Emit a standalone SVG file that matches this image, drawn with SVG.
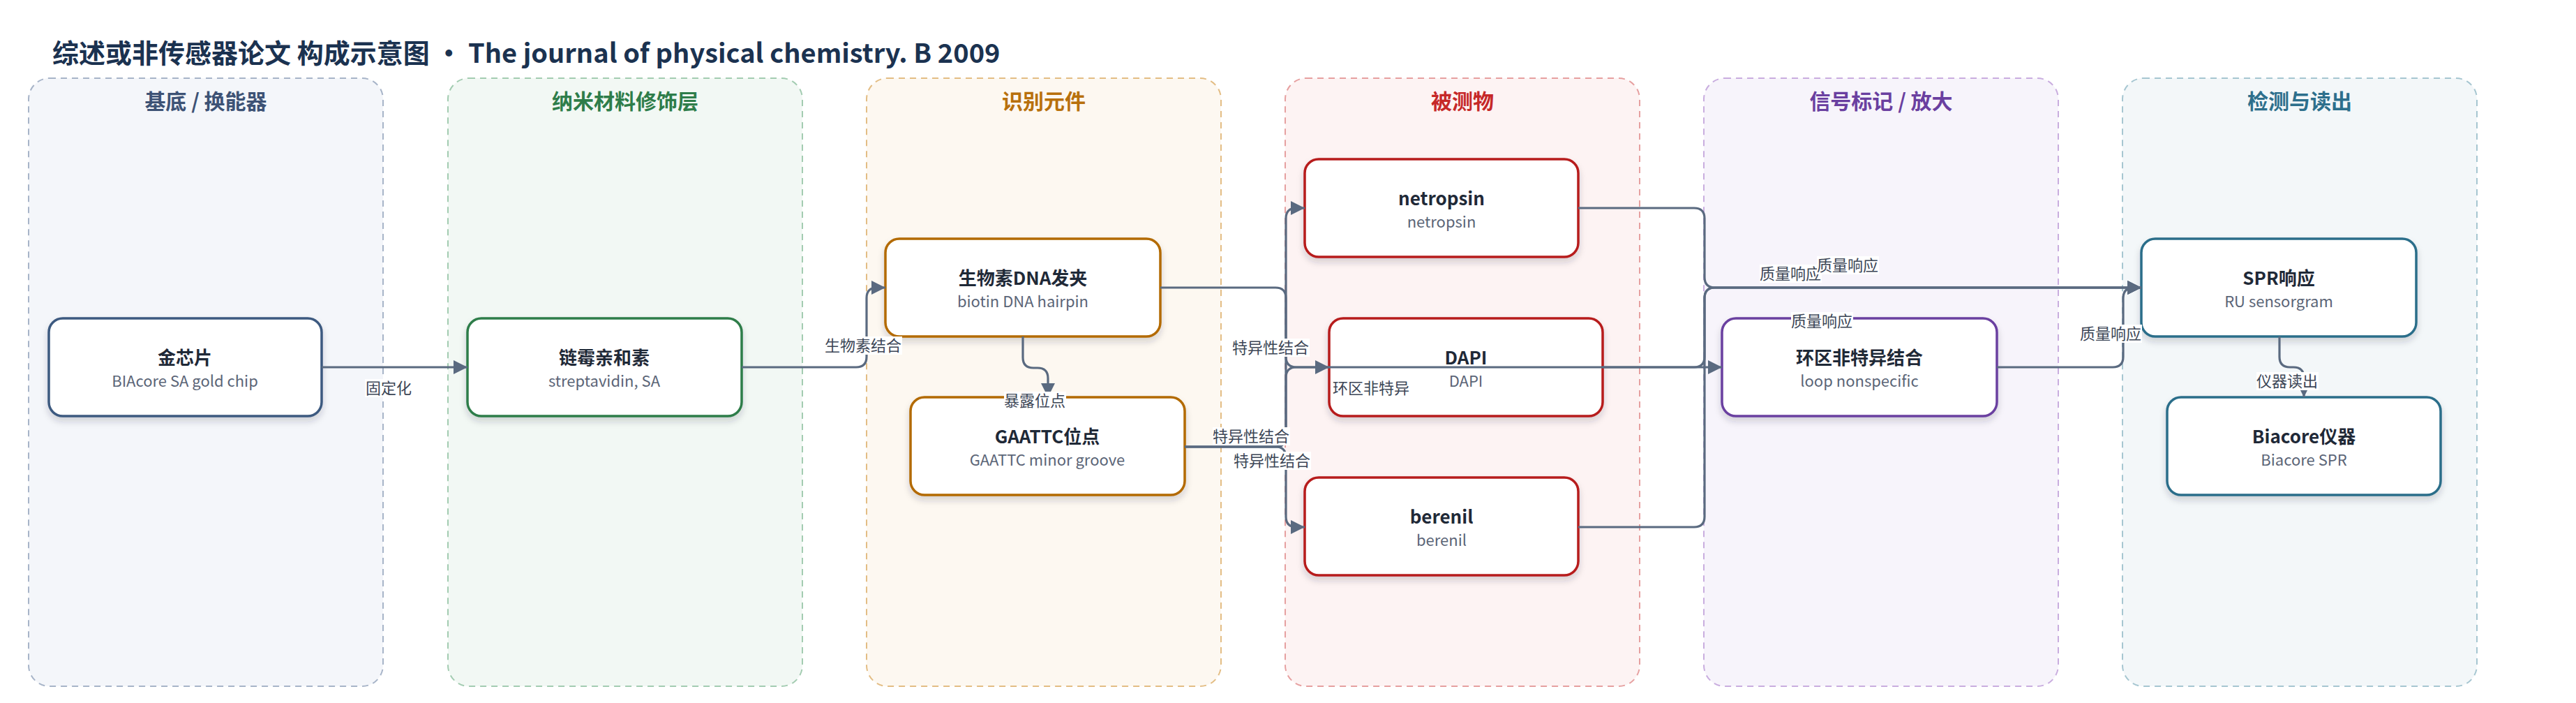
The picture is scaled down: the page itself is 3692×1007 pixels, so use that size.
<svg xmlns="http://www.w3.org/2000/svg" width="3692" height="1007" viewBox="0 0 3692 1007">
<defs>
<style>
text{font-family:"Noto Sans CJK SC","Noto Sans",sans-serif}
.title{font-size:38px;font-weight:700;fill:#1b3250}
.lane{stroke-width:2;stroke-dasharray:9 7}
.lt{font-size:30px;font-weight:700;text-anchor:middle}
.node{fill:#fff;stroke-width:3.5;filter:url(#sh)}
.nt{font-size:26px;font-weight:700;fill:#1f2937;text-anchor:middle}
.ns{font-size:22px;fill:#5b6577;text-anchor:middle}
.e{fill:none;stroke:#5a6a80;stroke-width:3.2}
.ea{marker-end:url(#ar)}
.lb{font-size:22px;fill:#3c4656;text-anchor:middle}
.lbg{fill:#fff}
</style>
<filter id="sh" x="-10%" y="-10%" width="120%" height="140%">
<feDropShadow dx="0" dy="6" stdDeviation="5" flood-color="#1f2937" flood-opacity="0.18"/>
</filter>
<marker id="ar" markerUnits="userSpaceOnUse" markerWidth="20" markerHeight="20" refX="20" refY="10" orient="auto">
<path d="M0,0 L20,10 L0,20 Z" fill="#5a6a80"/>
</marker>
</defs>
<rect width="3692" height="1007" fill="#fff"/>
<text class="title" x="75" y="90">综述或非传感器论文 构成示意图 • The journal of physical chemistry. B 2009</text>

<g id="lanes">
<g id="lane1"><rect class="lane" x="41" y="112" width="508" height="871" rx="30" fill="#f4f6fa" stroke="#a7b4c8"/><text class="lt" x="295" y="156" fill="#3d5275">基底 / 换能器</text></g>
<g id="lane2"><rect class="lane" x="642" y="112" width="508" height="871" rx="30" fill="#f2f8f4" stroke="#a3ccb1"/><text class="lt" x="896" y="156" fill="#2e7d4a">纳米材料修饰层</text></g>
<g id="lane3"><rect class="lane" x="1242" y="112" width="508" height="871" rx="30" fill="#fdf8f1" stroke="#e3bd84"/><text class="lt" x="1496" y="156" fill="#b8700c">识别元件</text></g>
<g id="lane4"><rect class="lane" x="1842" y="112" width="508" height="871" rx="30" fill="#fdf3f3" stroke="#e6a0a0"/><text class="lt" x="2096" y="156" fill="#c62828">被测物</text></g>
<g id="lane5"><rect class="lane" x="2442" y="112" width="508" height="871" rx="30" fill="#f7f4fb" stroke="#c9addf"/><text class="lt" x="2696" y="156" fill="#6a3fa0">信号标记 / 放大</text></g>
<g id="lane6"><rect class="lane" x="3042" y="112" width="508" height="871" rx="30" fill="#f3f7f9" stroke="#a6c6d1"/><text class="lt" x="3296" y="156" fill="#2d6f8c">检测与读出</text></g>
</g>

<g id="nodes">
<g id="n-chip"><rect class="node" x="70" y="456" width="391" height="140" rx="20" stroke="#3d5a80"/><text class="nt" x="265" y="522">金芯片</text><text class="ns" x="265" y="554">BIAcore SA gold chip</text></g>
<g id="n-sa"><rect class="node" x="670" y="456" width="393" height="140" rx="20" stroke="#2e7d4a"/><text class="nt" x="866" y="522">链霉亲和素</text><text class="ns" x="866" y="554">streptavidin, SA</text></g>
<g id="n-hairpin"><rect class="node" x="1269" y="342" width="394" height="140" rx="20" stroke="#b36b00"/><text class="nt" x="1466" y="408">生物素DNA发夹</text><text class="ns" x="1466" y="440">biotin DNA hairpin</text></g>
<g id="n-gaattc"><rect class="node" x="1305" y="569" width="393" height="140" rx="20" stroke="#b36b00"/><text class="nt" x="1501" y="635">GAATTC位点</text><text class="ns" x="1501" y="667">GAATTC minor groove</text></g>
<g id="n-netropsin"><rect class="node" x="1870" y="228" width="392" height="140" rx="20" stroke="#b71c1c"/><text class="nt" x="2066" y="294">netropsin</text><text class="ns" x="2066" y="326">netropsin</text></g>
<g id="n-dapi"><rect class="node" x="1905" y="456" width="392" height="140" rx="20" stroke="#b71c1c"/><text class="nt" x="2101" y="522">DAPI</text><text class="ns" x="2101" y="554">DAPI</text></g>
<g id="n-berenil"><rect class="node" x="1870" y="684" width="392" height="140" rx="20" stroke="#b71c1c"/><text class="nt" x="2066" y="750">berenil</text><text class="ns" x="2066" y="782">berenil</text></g>
<g id="n-loop"><rect class="node" x="2468" y="456" width="394" height="140" rx="20" stroke="#6a3fa0"/><text class="nt" x="2665" y="522">环区非特异结合</text><text class="ns" x="2665" y="554">loop nonspecific</text></g>
<g id="n-spr"><rect class="node" x="3069" y="342" width="394" height="140" rx="20" stroke="#2c6e8a"/><text class="nt" x="3266" y="408">SPR响应</text><text class="ns" x="3266" y="440">RU sensorgram</text></g>
<g id="n-biacore"><rect class="node" x="3106" y="569" width="392" height="140" rx="20" stroke="#2c6e8a"/><text class="nt" x="3302" y="635">Biacore仪器</text><text class="ns" x="3302" y="667">Biacore SPR</text></g>
</g>

<g id="connectors">
<path class="e ea" d="M461 526 H670"/>
<path class="e ea" d="M1063 526 H1227 Q1242 526 1242 511 V427 Q1242 412 1257 412 H1269"/>
<path class="e ea" d="M1466 482 V512 Q1466 527 1481 527 H1487 Q1502 527 1502 542 V569"/>
<path class="e ea" d="M1663 412 H1828 Q1843 412 1843 427 V511 Q1843 526 1858 526 H2468"/>
<path class="e ea" d="M1698 640 H1828 Q1843 640 1843 625 V313 Q1843 298 1858 298 H1870"/>
<path class="e ea" d="M1698 640 H1828 Q1843 640 1843 625 V541 Q1843 526 1858 526 H1905"/>
<path class="e ea" d="M1698 640 H1828 Q1843 640 1843 655 V740 Q1843 755 1858 755 H1870"/>
<path class="e ea" d="M2262 298 H2428 Q2443 298 2443 313 V397 Q2443 412 2458 412 H3069"/>
<path class="e ea" d="M2297 526 H2428 Q2443 526 2443 511 V427 Q2443 412 2458 412 H3069"/>
<path class="e ea" d="M2262 755 H2428 Q2443 755 2443 740 V427 Q2443 412 2458 412 H3069"/>
<path class="e ea" d="M2862 526 H3028 Q3043 526 3043 511 V427 Q3043 412 3058 412 H3069"/>
<path class="e ea" d="M3267 482 V511 Q3267 526 3282 526 H3287 Q3302 526 3302 541 V569"/>
</g>

<g id="labels">
<rect class="lbg" x="523" y="543" width="68" height="26"/><text class="lb" x="557" y="564">固定化</text>
<rect class="lbg" x="1181" y="482" width="112" height="26"/><text class="lb" x="1237" y="503">生物素结合</text>
<rect class="lbg" x="1439" y="561" width="89" height="26"/><text class="lb" x="1483" y="582">暴露位点</text>
<rect class="lbg" x="1766" y="485" width="111" height="26"/><text class="lb" x="1821" y="506">特异性结合</text>
<rect class="lbg" x="1738" y="612" width="111" height="26"/><text class="lb" x="1793" y="633">特异性结合</text>
<rect class="lbg" x="1768" y="647" width="111" height="26"/><text class="lb" x="1823" y="668">特异性结合</text>
<text class="lb" x="1965" y="564">环区非特异</text>
<rect class="lbg" x="2522" y="379" width="89" height="26"/><text class="lb" x="2566" y="400">质量响应</text>
<rect class="lbg" x="2604" y="367" width="89" height="26"/><text class="lb" x="2648" y="388">质量响应</text>
<rect class="lbg" x="2567" y="447" width="89" height="26"/><text class="lb" x="2611" y="468">质量响应</text>
<rect class="lbg" x="2981" y="465" width="89" height="26"/><text class="lb" x="3025" y="486">质量响应</text>
<rect class="lbg" x="3234" y="533" width="89" height="26"/><text class="lb" x="3278" y="554">仪器读出</text>
</g>
</svg>
